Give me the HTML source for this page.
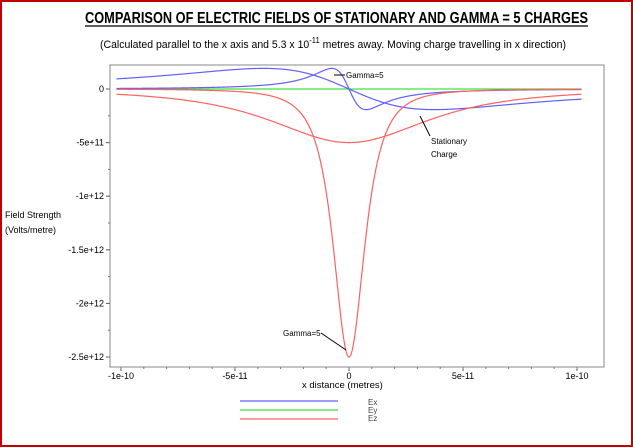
<!DOCTYPE html>
<html><head><style>
html,body{margin:0;padding:0;background:#fff;}
#w{position:relative;width:629px;height:443px;border:2px solid #c00000;font-family:"Liberation Sans",sans-serif;overflow:hidden;background:#fff;}
.t{position:absolute;white-space:nowrap;color:#000;}
</style></head><body>
<div id="w">
<svg id="s" width="629" height="443" style="position:absolute;left:0;top:0" font-family="Liberation Sans, sans-serif" font-size="9">
<text x="83" y="21" font-size="16" font-weight="bold" textLength="503" lengthAdjust="spacingAndGlyphs">COMPARISON OF ELECTRIC FIELDS OF STATIONARY AND GAMMA = 5 CHARGES</text>
<line x1="83" y1="24" x2="586" y2="24" stroke="#000" stroke-width="1.3"/>
<text x="98" y="46" font-size="11" textLength="466" lengthAdjust="spacingAndGlyphs">(Calculated parallel to the x axis and 5.3 x 10<tspan font-size="8" dy="-5">-11</tspan><tspan dy="5"> metres away. Moving charge travelling in x direction)</tspan></text>
<text x="3" y="216" font-size="9">Field Strength</text>
<text x="3" y="231" font-size="9">(Volts/metre)</text>
<rect x="108" y="63" width="494" height="302" fill="none" stroke="#888" stroke-width="1"/>
<g id="g"></g>
<text x="300" y="386" font-size="9.5">x distance (metres)</text>
<line x1="238" y1="399" x2="336" y2="399" stroke="#6060ff" stroke-width="1.3"/>
<line x1="238" y1="408" x2="336" y2="408" stroke="#40e040" stroke-width="1.3"/>
<line x1="238" y1="417" x2="336" y2="417" stroke="#ff6060" stroke-width="1.3"/>
<text x="366" y="403" font-size="8" fill="#444">Ex</text>
<text x="366" y="411" font-size="8" fill="#444">Ey</text>
<text x="366" y="419" font-size="8" fill="#444">Ez</text>
<text x="344" y="76" font-size="8">Gamma=5</text>
<line x1="332" y1="73" x2="343" y2="73" stroke="#000"/>
<text x="429" y="142" font-size="8">Stationary</text>
<text x="429" y="155" font-size="8">Charge</text>
<line x1="428" y1="134" x2="418" y2="114" stroke="#000"/>
<text x="281" y="334" font-size="8">Gamma=5</text>
<line x1="319" y1="331" x2="344" y2="348" stroke="#000"/>
</svg>
</div>
<script>
var g=document.getElementById('g'),h='';
function X(x){return 347+x*2.28e12;}function Y(e){return 87-e*107.2/1e12;}
var yt=[[0,'0'],[-5e11,'-5e+11'],[-1e12,'-1e+12'],[-1.5e12,'-1.5e+12'],[-2e12,'-2e+12'],[-2.5e12,'-2.5e+12']];
yt.forEach(function(t){var y=Y(t[0]);h+='<line x1="104" y1="'+y+'" x2="108" y2="'+y+'" stroke="#555"/><text x="102" y="'+(y+3)+'" text-anchor="end">'+t[1]+'</text>';});
for(var e=-2.5e12;e<=2e11;e+=2.5e11){var y=Y(e);h+='<line x1="106" y1="'+y+'" x2="108" y2="'+y+'" stroke="#777"/>';}
var xt=[[-1e-10,'-1e-10'],[-5e-11,'-5e-11'],[0,'0'],[5e-11,'5e-11'],[1e-10,'1e-10']];
xt.forEach(function(t){var x=X(t[0]);h+='<line x1="'+x+'" y1="365" x2="'+x+'" y2="369" stroke="#555"/><text x="'+x+'" y="377" text-anchor="middle">'+t[1]+'</text>';});
for(var x=-1e-10;x<=1.05e-10;x+=1e-11){var p=X(x);h+='<line x1="'+p+'" y1="365" x2="'+p+'" y2="367" stroke="#777"/>';}
var d=5.3e-11,K=5e11*d*d;
function path(f,c){var s='';for(var i=0;i<=1200;i++){var x=-1.02e-10+i*2.04e-10/1200;s+=(i?'L':'M')+X(x).toFixed(2)+' '+Y(f(x)).toFixed(2);}return '<path d="'+s+'" fill="none" stroke="'+c+'" stroke-width="1.2"/>';}
h+=path(function(x){return 0;},'#40e040');
h+=path(function(x){return -K*x/Math.pow(x*x+d*d,1.5);},'#6060ff');
h+=path(function(x){var gm=5;return -K*gm*x/Math.pow(gm*gm*x*x+d*d,1.5);},'#6060ff');
h+=path(function(x){return -K*d/Math.pow(x*x+d*d,1.5);},'#ff6060');
h+=path(function(x){var gm=5;return -K*gm*d/Math.pow(gm*gm*x*x+d*d,1.5);},'#ff6060');
g.innerHTML=h;
</script>
</body></html>
